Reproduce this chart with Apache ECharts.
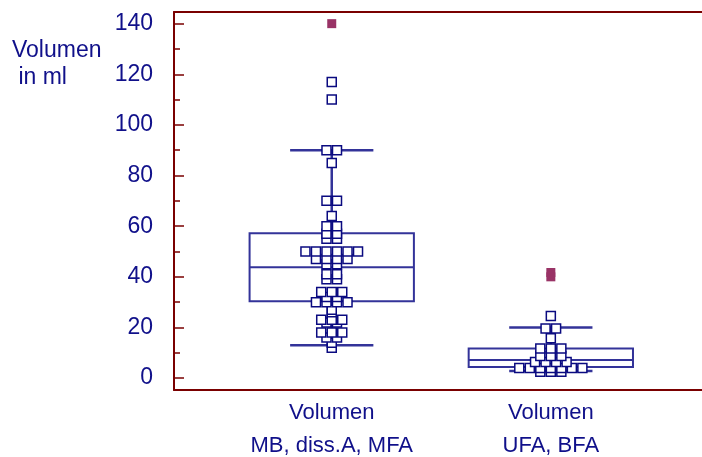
<!DOCTYPE html>
<html>
<head>
<meta charset="utf-8">
<script src="https://cdn.jsdelivr.net/npm/echarts@6/dist/echarts.min.js"></script>
<style>
html, body { margin: 0; padding: 0; background: #fff; }
#main { width: 702px; height: 457px; }
</style>
</head>
<body>
<div id="main"></div>
<script>
// groups sit at x = 1 and x = 2
const groupNames = ['Volumen\nMB, diss.A, MFA', 'Volumen\nUFA, BFA']
const yTicks = [0, 20, 40, 60, 80, 100, 120, 140]
const yMinorTicks = [10, 30, 50, 70, 90, 110, 130]

// [low whisker, Q1, median, Q3, high whisker]
const boxGroup1 = [13, 30.4, 43.8, 57.2, 90]
const boxGroup2 = [2.8, 4.4, 7.1, 11.7, 20]

// single measurements (ml)
const valuesGroup1 = [12, 14, 16, 16, 18, 18, 18, 22, 22, 23, 23, 23, 26, 27,
  30, 30, 30, 30, 32, 32, 34, 34, 34, 39, 39, 41, 41, 45, 45, 47, 47, 47, 47,
  50, 50, 50, 50, 50, 50, 55, 55, 57, 57, 60, 60, 64, 70, 70, 85, 90, 90, 110, 117]
const valuesGroup2 = [2.5, 2.5, 2.5, 4, 4, 4, 4, 4, 4, 4, 6.4, 6.4, 6.4, 6.4,
  8.7, 8.7, 8.7, 11.7, 11.7, 11.7, 15.7, 19.6, 19.6, 24.5]
const outliersGroup1 = [140]
const outliersGroup2 = [40, 41.7]

const TEXT = '#10108a'
const AXIS = '#7a0000'
const BOX = '#333399'
const FONT = 'Liberation Sans, Arial, sans-serif'
const BOX_WIDTH = 0.75
const CAP_WIDTH = 0.38
const DOT_STEP = 0.048

// equal values go into one centred row
function swarm (group, values) {
  const counts = {}
  const seen = {}
  values.forEach(v => { counts[v] = (counts[v] || 0) + 1 })
  return values.map(v => {
    seen[v] = seen[v] === undefined ? 0 : seen[v] + 1
    return [group + (seen[v] - (counts[v] - 1) / 2) * DOT_STEP, v]
  })
}

function renderBox (params, api) {
  const x = api.value(0)
  const lo = api.coord([x, api.value(1)])
  const q1 = api.coord([x, api.value(2)])
  const med = api.coord([x, api.value(3)])
  const q3 = api.coord([x, api.value(4)])
  const hi = api.coord([x, api.value(5)])
  const cx = lo[0]
  const hb = api.size([BOX_WIDTH, 0])[0] / 2
  const hc = api.size([CAP_WIDTH, 0])[0] / 2
  const whisker = { stroke: BOX, lineWidth: 2.5, fill: null }
  const box = { stroke: BOX, lineWidth: 2, fill: null }
  return {
    type: 'group',
    children: [
      { type: 'line', shape: { x1: cx, y1: hi[1], x2: cx, y2: q3[1] }, style: whisker },
      { type: 'line', shape: { x1: cx, y1: lo[1], x2: cx, y2: q1[1] }, style: whisker },
      { type: 'line', shape: { x1: cx - hc, y1: hi[1], x2: cx + hc, y2: hi[1] }, style: whisker },
      { type: 'line', shape: { x1: cx - hc, y1: lo[1], x2: cx + hc, y2: lo[1] }, style: whisker },
      { type: 'rect', shape: { x: cx - hb, y: q3[1], width: hb * 2, height: q1[1] - q3[1] }, style: box },
      { type: 'line', shape: { x1: cx - hb, y1: med[1], x2: cx + hb, y2: med[1] }, style: box }
    ]
  }
}

const chart = echarts.init(document.getElementById('main'))
const gridRect = { left: 174, right: 0, top: 12, bottom: 67, outerBoundsMode: 'none', containLabel: false }
const yMin = -4.7
const yMax = 144.6
const xMin = 0.28
const xMax = 2.69

chart.setOption({
  animation: false,
  title: {
    text: 'Volumen\n in ml',
    left: 12,
    top: 37,
    padding: 0,
    textStyle: { fontSize: 23, fontWeight: 'normal', color: TEXT, lineHeight: 27, fontFamily: FONT }
  },
  grid: [Object.assign({}, gridRect), Object.assign({}, gridRect)],
  xAxis: [
    {
      type: 'value',
      min: xMin,
      max: xMax,
      position: 'bottom',
      axisLine: { show: true, onZero: false, lineStyle: { color: AXIS, width: 2 } },
      axisTick: { show: false },
      splitLine: { show: false },
      axisLabel: {
        customValues: [1, 2],
        formatter: v => groupNames[Math.round(v) - 1],
        color: TEXT,
        fontSize: 22,
        lineHeight: 33,
        margin: 6,
        fontFamily: FONT
      }
    },
    {
      type: 'value',
      min: xMin,
      max: xMax,
      position: 'top',
      axisLine: { show: true, onZero: false, lineStyle: { color: AXIS, width: 2 } },
      axisTick: { show: false },
      axisLabel: { show: false },
      splitLine: { show: false }
    },
    { type: 'value', gridIndex: 1, min: xMin, max: xMax, show: false }
  ],
  yAxis: [
    {
      type: 'value',
      min: yMin,
      max: yMax,
      axisLine: { show: true, onZero: false, lineStyle: { color: AXIS, width: 2 } },
      axisTick: { show: true, inside: true, length: 10, customValues: yTicks, lineStyle: { color: AXIS, width: 1.5 } },
      axisLabel: { customValues: yTicks, margin: 21, color: TEXT, fontSize: 23, fontFamily: FONT },
      splitLine: { show: false }
    },
    {
      type: 'value',
      gridIndex: 1,
      min: yMin,
      max: yMax,
      axisLine: { show: false },
      axisTick: { show: true, inside: true, length: 6, customValues: yMinorTicks, lineStyle: { color: AXIS, width: 1.5 } },
      axisLabel: { show: false },
      splitLine: { show: false }
    }
  ],
  series: [
    {
      type: 'custom',
      renderItem: renderBox,
      data: [[1].concat(boxGroup1), [2].concat(boxGroup2)],
      silent: true,
      z: 2
    },
    {
      type: 'scatter',
      symbol: 'rect',
      symbolSize: 9,
      silent: true,
      data: swarm(1, valuesGroup1).concat(swarm(2, valuesGroup2)),
      itemStyle: { color: '#fff', borderColor: '#0a0a80', borderWidth: 1.5, opacity: 1 },
      z: 3
    },
    {
      type: 'scatter',
      symbol: 'rect',
      symbolSize: 9,
      silent: true,
      data: outliersGroup1.map(v => [1, v]).concat(outliersGroup2.map(v => [2, v])),
      itemStyle: { color: '#993366', opacity: 1 },
      z: 3
    }
  ]
})
</script>
</body>
</html>
